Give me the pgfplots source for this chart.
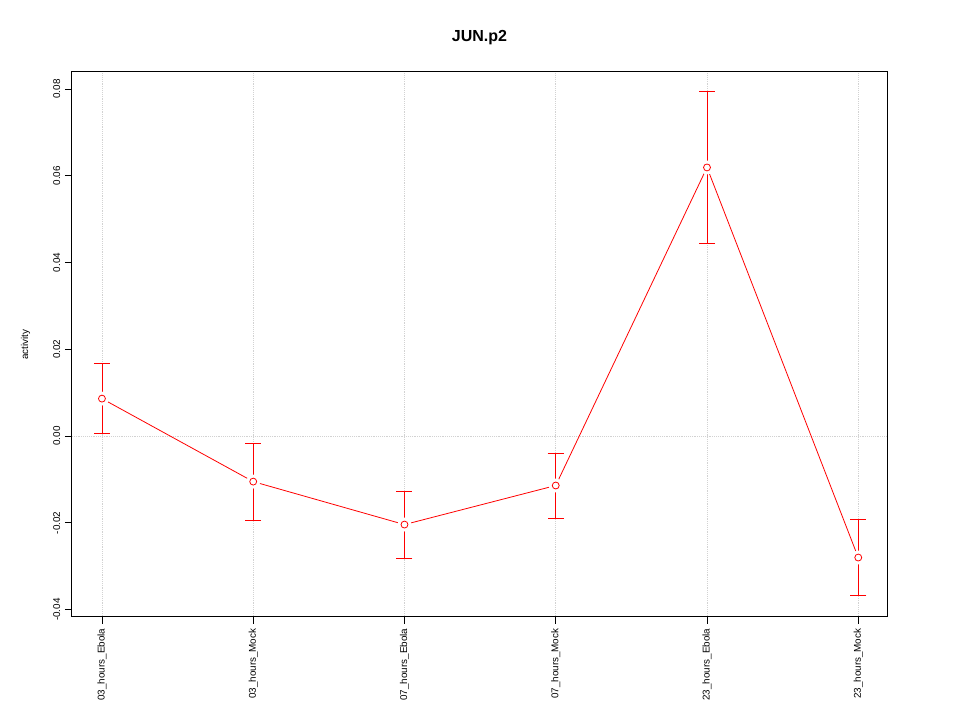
\documentclass[border=0pt]{standalone}
\usepackage{pgfplots}
\pgfplotsset{compat=1.18}
\usepackage{fontspec}
\setmainfont{Liberation Sans}
\pgfdeclareplotmark{bigwhite}{\pgfpathcircle{\pgfpointorigin}{5.2pt}\pgfusepathqfill}
\pgfplotstableread{
x y ep em
0 0.00863 0.0081 0.0081
1 -0.0105 0.0089 0.0090
2 -0.0204 0.0076 0.0079
3 -0.0114 0.0075 0.0076
4 0.0619 0.0175 0.0175
5 -0.0280 0.0088 0.0088
}\datatab
\begin{document}
\begin{tikzpicture}[x=1pt,y=1pt]
\begin{axis}[
  name=ax,
  scale only axis,
  width=611.25pt, height=408.75pt,
  xmin=-0.198, xmax=5.19,
  ymin=-0.0417, ymax=0.0839,
  axis line style={black, line width=0.75pt},
  xtick={0,1,2,3,4,5},
  xticklabels={03\_hours\_Ebola,03\_hours\_Mock,07\_hours\_Ebola,07\_hours\_Mock,23\_hours\_Ebola,23\_hours\_Mock},
  xticklabel style={rotate=90, anchor=east, font=\fontsize{7.4pt}{8pt}\selectfont},
  ytick={-0.04,-0.02,0,0.02,0.04,0.06,0.08},
  scaled y ticks=false,
  yticklabel style={rotate=90, anchor=south, font=\fontsize{7.4pt}{8pt}\selectfont,
    /pgf/number format/fixed, /pgf/number format/fixed zerofill, /pgf/number format/precision=2},
  /pgf/number format/assume math mode=true,
  tick align=outside,
  major tick length=5.25pt,
  tick style={black, line width=0.6pt},
  xtick pos=bottom, ytick pos=left,
  xmajorgrids,
  grid style={densely dotted, gray!35, line width=0.6pt},
  extra y ticks={0},
  extra y tick labels={},
  extra y tick style={ymajorgrids, tick style={draw=none}},
  ylabel={activity},
  ylabel style={font=\fontsize{7.4pt}{8pt}\selectfont},
  title={\bfseries JUN.p2},
  title style={font=\fontsize{12pt}{14pt}\selectfont, yshift=11pt},
  clip=false,
]
\addplot[red, line width=0.6pt, mark=bigwhite, mark options={white}] table[x=x, y=y] {\datatab};
\addplot[draw=none, mark=none,
  error bars/.cd, y dir=both, y explicit,
  error bar style={draw=red, line width=0.6pt},
  error mark options={rotate=90, mark size=6pt, draw=red, line width=0.6pt}]
  table[x=x, y=y, y error plus=ep, y error minus=em] {\datatab};
\addplot[red, only marks, mark=o, mark size=2.6pt, mark options={line width=0.6pt, draw=red, fill=none}]
  table[x=x, y=y] {\datatab};
\end{axis}
\useasboundingbox ([xshift=-54pt,yshift=-77.25pt]ax.south west) rectangle ([xshift=54.75pt,yshift=54pt]ax.north east);
\end{tikzpicture}
\end{document}
